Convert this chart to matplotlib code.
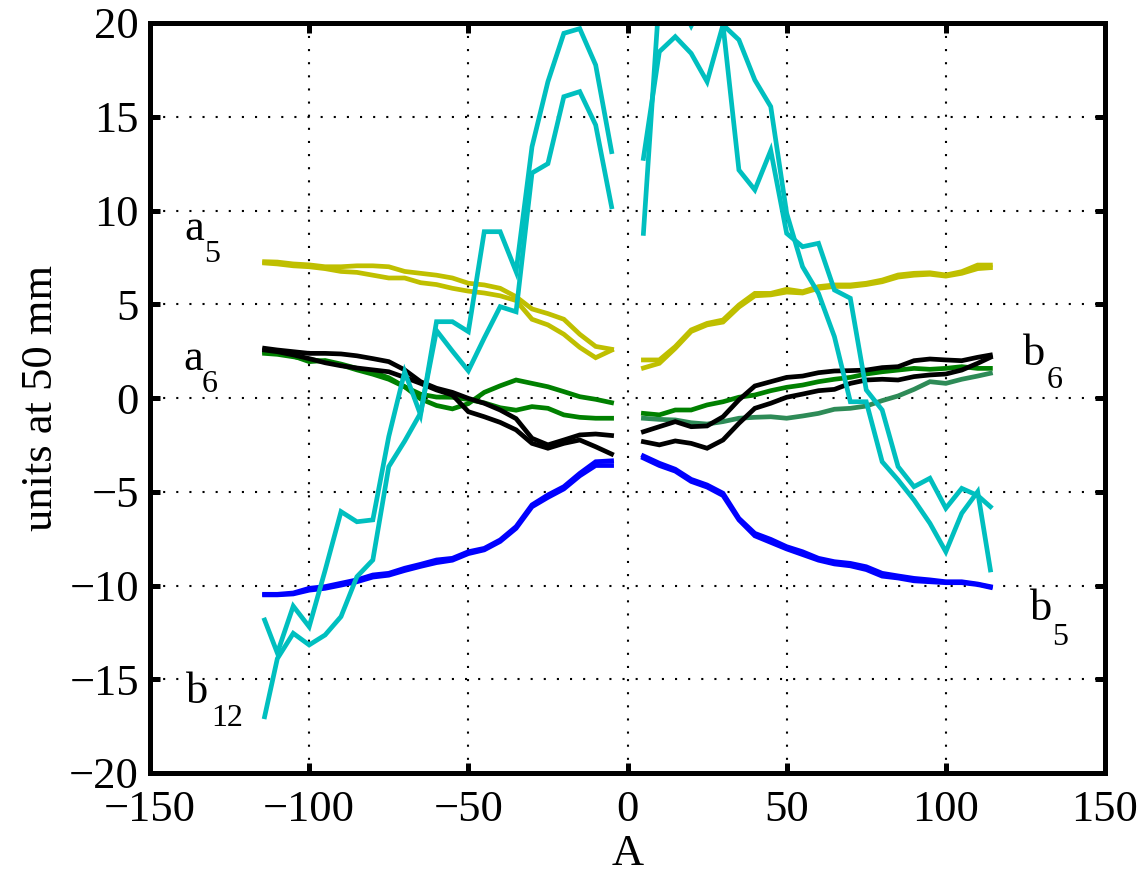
import matplotlib
matplotlib.use("Agg")
import matplotlib.pyplot as plt

plt.rcParams['font.family'] = ['Liberation Serif', 'DejaVu Serif']

x_left = [-114, -110, -105, -100, -95, -90, -85, -80, -75, -70, -65, -60,
          -55, -50, -45, -40, -35, -30, -25, -20, -15, -10, -5]
x_right = [5, 10, 15, 20, 25, 30, 35, 40, 45, 50, 55, 60, 65, 70, 75, 80,
           85, 90, 95, 100, 105, 110, 114]

# a5 (yellow)
a5_left_1 = [7.27, 7.25, 7.15, 7.1, 7.0, 7.0, 7.05, 7.05, 7.0, 6.75, 6.65, 6.55,
             6.4, 6.12, 6.03, 5.85, 5.4, 4.75, 4.5, 4.2, 3.4, 2.75, 2.6]
a5_left_2 = [7.2, 7.15, 7.05, 7.0, 6.9, 6.75, 6.7, 6.55, 6.4, 6.4, 6.15, 6.05,
             5.85, 5.7, 5.6, 5.45, 5.2, 4.2, 3.9, 3.4, 2.7, 2.15, 2.55]
a5_right_1 = [2.03, 2.03, 2.74, 3.63, 3.98, 4.16, 4.96, 5.58, 5.58, 5.8, 5.67, 5.94,
              6.03, 6.03, 6.12, 6.29, 6.56, 6.65, 6.68, 6.56, 6.74, 7.09, 7.09]
a5_right_2 = [1.6, 1.85, 2.65, 3.55, 3.9, 4.05, 4.85, 5.45, 5.5, 5.65, 5.6, 5.85,
              5.95, 5.95, 6.05, 6.2, 6.45, 6.55, 6.6, 6.5, 6.65, 6.9, 6.95]

# a6 (black)
a6_left_1 = [2.65, 2.56, 2.47, 2.38, 2.38, 2.35, 2.25, 2.1, 1.94, 1.5, 0.87, 0.52,
             0.3, -0.02, -0.28, -0.64, -1.1, -2.15, -2.5, -2.24, -1.97, -1.92, -2.0]
a6_left_2 = [2.56, 2.47, 2.3, 2.1, 1.88, 1.72, 1.6, 1.5, 1.4, 1.1, 0.78, 0.43,
             0.16, -0.73, -1.0, -1.3, -1.7, -2.42, -2.68, -2.42, -2.24, -2.6, -2.99]
b6_right_1 = [-1.8, -1.53, -1.26, -1.53, -1.49, -1.0, -0.1, 0.64, 0.87, 1.1, 1.17, 1.35,
              1.44, 1.46, 1.49, 1.62, 1.67, 1.99, 2.08, 2.03, 1.99, 2.17, 2.29]
b6_right_2 = [-2.33, -2.5, -2.29, -2.42, -2.68, -2.24, -1.35, -0.55, -0.28, 0.04, 0.21, 0.39,
              0.46, 0.78, 0.96, 1.0, 0.96, 1.14, 1.23, 1.28, 1.49, 1.85, 2.17]

# green
g_left_1 = [2.47, 2.38, 2.24, 1.94, 2.0, 1.81, 1.58, 1.38, 1.08, 0.6, -0.05, -0.4,
            -0.58, -0.3, 0.3, 0.65, 0.96, 0.78, 0.6, 0.34, 0.07, -0.07, -0.25]
g_left_2 = [2.38, 2.33, 2.2, 2.06, 1.94, 1.76, 1.5, 1.27, 1.0, 0.6, 0.2, 0.05,
            0.04, -0.08, -0.26, -0.52, -0.65, -0.46, -0.55, -0.9, -1.03, -1.08, -1.08]
g_right_1 = [-0.82, -0.9, -0.64, -0.64, -0.37, -0.2, 0.04, 0.16, 0.39, 0.57, 0.69, 0.87,
             1.0, 1.1, 1.28, 1.4, 1.49, 1.58, 1.53, 1.58, 1.67, 1.58, 1.58]
g_right_2 = [-1.08, -1.14, -1.17, -1.32, -1.39, -1.26, -1.08, -1.03, -1.0, -1.08, -0.96, -0.82,
             -0.6, -0.55, -0.43, -0.14, 0.11, 0.46, 0.87, 0.78, 1.0, 1.17, 1.32]

# b5 (blue)
b5_left_1 = [-10.47, -10.47, -10.4, -10.15, -10.06, -9.88, -9.7, -9.44, -9.35, -9.08, -8.87, -8.64,
             -8.55, -8.2, -8.02, -7.57, -6.86, -5.7, -5.17, -4.73, -4.02, -3.4, -3.35]
b5_left_2 = [-10.5, -10.5, -10.45, -10.25, -10.15, -9.98, -9.8, -9.55, -9.45, -9.2, -8.98, -8.78,
             -8.65, -8.3, -8.1, -7.65, -6.95, -5.8, -5.3, -4.85, -4.15, -3.6, -3.6]
b5_right_1 = [-3.09, -3.48, -3.8, -4.34, -4.64, -5.08, -6.42, -7.22, -7.54, -7.93, -8.2, -8.55,
              -8.73, -8.82, -9.0, -9.35, -9.49, -9.62, -9.7, -9.8, -9.8, -9.92, -10.06]
b5_right_2 = [-3.2, -3.6, -3.9, -4.45, -4.75, -5.2, -6.5, -7.35, -7.7, -8.05, -8.35, -8.65,
              -8.85, -8.95, -9.15, -9.5, -9.6, -9.75, -9.8, -9.85, -9.85, -9.95, -10.1]

# b12 (cyan)
b12_left_1 = [-11.84, -13.6, -11.1, -12.2, -9.2, -6.06, -6.6, -6.5, -2.06, 1.4, -0.9, 4.07,
              4.07, 3.54, 8.87, 8.87, 6.74, 13.4, 16.87, 19.45, 19.7, 17.76, 13.14]
b12_left_2 = [-17.0, -13.9, -12.55, -13.17, -12.64, -11.66, -9.53, -8.64, -3.66, -2.3, -0.8, 3.6,
              2.5, 1.45, 3.2, 4.87, 4.6, 12.0, 12.5, 16.07, 16.34, 14.56, 10.2]
b12_right_1 = [12.78, 18.47, 19.27, 18.38, 16.87, 19.9, 19.1, 16.96, 15.54, 9.85, 7.0, 5.58,
               3.27, -0.2, -0.2, -3.4, -4.37, -5.44, -6.68, -8.2, -6.15, -5.0, -9.17]
b12_right_2 = [8.78, 21.5, 21.5, 19.85, 21.5, 19.9, 12.16, 11.1, 13.2, 8.78, 8.07, 8.25,
               5.76, 5.32, 0.43, -0.64, -3.66, -4.73, -4.28, -5.88, -4.82, -5.2, -5.8]

labels = [("a", "5", (-139.2, 8.43), (-132.9, 7.25)),
          ("a", "6", (-139.5, 1.49), (-133.9, 0.32)),
          ("b", "12", (-138.6, -16.27), (-130.7, -17.49)),
          ("b", "6", (124.1, 1.76), (131.7, 0.53)),
          ("b", "5", (126.3, -11.84), (133.5, -13.17))]

YELLOW = (0.75, 0.75, 0.0)
CYAN = (0.0, 0.75, 0.75)
GREEN = (0.0, 0.5, 0.0)
SEAGREEN = (0.18, 0.545, 0.34)
BLUE = (0.0, 0.0, 1.0)
BLACK = (0.0, 0.0, 0.0)

fig = plt.figure(figsize=(11.44, 8.73), dpi=100)
ax = fig.add_axes([150/1144, 1 - 773/873, 955/1144, 750/873])

lw = 3.4
series = [
    (x_left, a5_left_1, YELLOW), (x_left, a5_left_2, YELLOW),
    (x_right, a5_right_1, YELLOW), (x_right, a5_right_2, YELLOW),
    (x_left, g_left_1, GREEN), (x_left, g_left_2, GREEN),
    (x_right, g_right_1, GREEN), (x_right, g_right_2, SEAGREEN),
    (x_left, a6_left_1, BLACK), (x_left, a6_left_2, BLACK),
    (x_right, b6_right_1, BLACK), (x_right, b6_right_2, BLACK),
    (x_left, b5_left_1, BLUE), (x_left, b5_left_2, BLUE),
    (x_right, b5_right_1, BLUE), (x_right, b5_right_2, BLUE),
    (x_left, b12_left_1, CYAN), (x_left, b12_left_2, CYAN),
    (x_right, b12_right_1, CYAN), (x_right, b12_right_2, CYAN),
]
for xs, ys, c in series:
    ax.plot(xs, ys, color=c, lw=lw, solid_joinstyle='miter')

ax.set_xlim(-150, 150)
ax.set_ylim(-20, 20)
ax.set_xticks([-150, -100, -50, 0, 50, 100, 150])
ax.set_yticks([-20, -15, -10, -5, 0, 5, 10, 15, 20])
ax.grid(True, color='black', linestyle=(0, (1, 5.3)), linewidth=1.5)
ax.set_axisbelow(True)

for s in ax.spines.values():
    s.set_linewidth(3.6)
ax.tick_params(direction='in', length=7, width=3.6, top=True, right=True,
               labelsize=32)
ax.tick_params(axis='x', pad=12)
ax.tick_params(axis='y', pad=8)

ax.set_xlabel("A", fontsize=32, labelpad=3)
ax.set_ylabel("units at 50 mm", fontsize=32, labelpad=6)

for main, sub, pm, ps in labels:
    ax.text(pm[0], pm[1], main, fontsize=32, ha='left', va='baseline')
    ax.text(ps[0], ps[1], sub, fontsize=23, ha='left', va='baseline')

fig.savefig("out.png", dpi=100)
